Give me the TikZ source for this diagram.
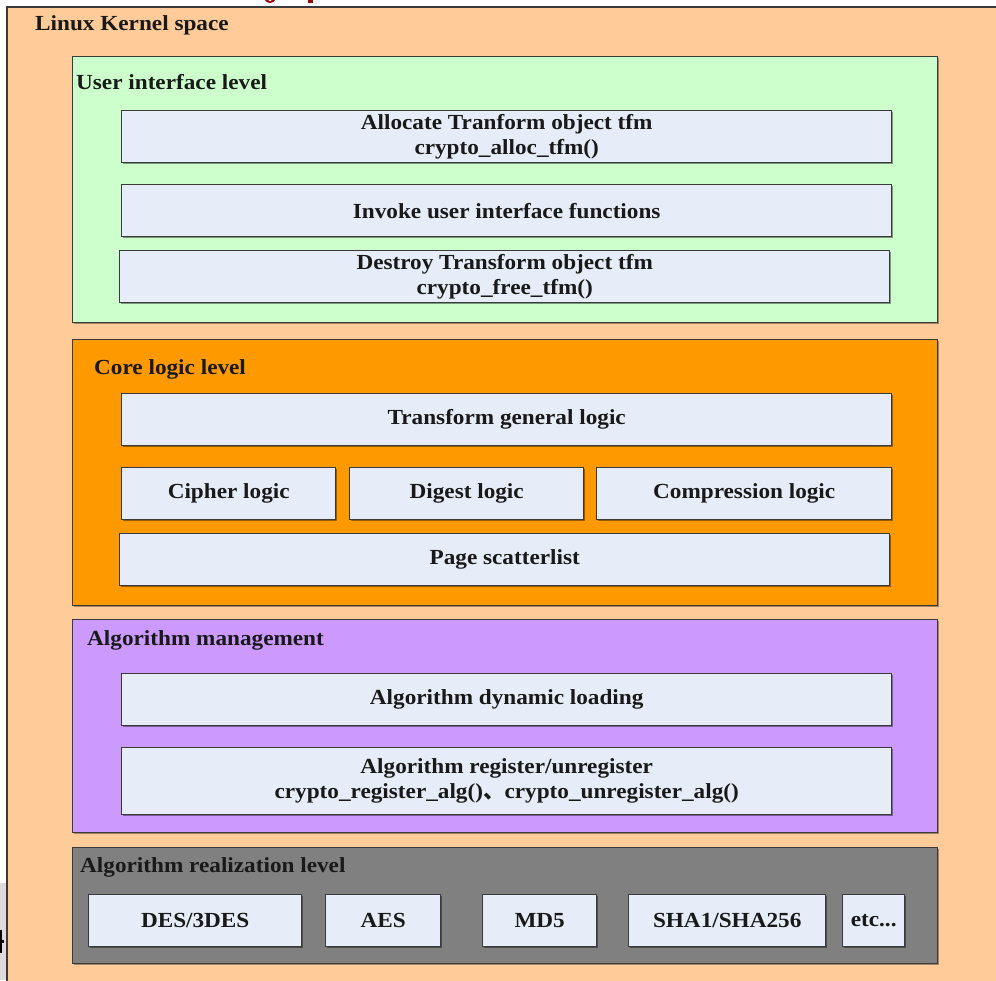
\documentclass[tikz,border=0pt]{standalone}
\usepackage{fontspec}
\setmainfont[FakeStretch=1.08]{Liberation Serif}
\newfontfamily\cjk{Noto Sans CJK SC}
\usetikzlibrary{shadows}
\definecolor{peach}{HTML}{FFCC99}
\definecolor{uigreen}{HTML}{CCFFCC}
\definecolor{coreorange}{HTML}{FF9900}
\definecolor{mgmtpurple}{HTML}{CC99FF}
\definecolor{realgray}{HTML}{808080}
\definecolor{boxfill}{HTML}{E7EDF8}
\definecolor{edge}{HTML}{3A3A3A}
\definecolor{titlered}{HTML}{A00000}
\definecolor{sidegray}{HTML}{DCDCDE}
\tikzset{
  txt/.style={font=\fontsize{21.5}{25}\selectfont\bfseries, text=black!90},
  levelbox/.style={draw=edge, line width=1.4pt, anchor=north west, inner sep=0pt,
     drop shadow={shadow xshift=1pt, shadow yshift=-1pt, opacity=0.35, fill=black}},
  itembox/.style={draw=edge, line width=1.4pt, fill=boxfill, anchor=north west, inner sep=0pt,
     align=center, txt,
     drop shadow={shadow xshift=1.2pt, shadow yshift=-1.2pt, opacity=0.4, fill=black}},
  lbl/.style={txt, anchor=west, inner sep=0pt},
}
\begin{document}
\begin{tikzpicture}[x=1pt, y=-1pt]
\useasboundingbox (0,0) rectangle (996,980);
% background strips
\fill[white] (0,0) rectangle (996,980);
\fill[sidegray] (0,883) rectangle (6,980);
\fill[black] (0,930) rectangle (2,953);
\fill[black] (0,940) rectangle (4,943);
% red title fragments
\fill[titlered] (265,0) .. controls (267,4) and (273,4) .. (275,0) -- (272,0) .. controls (271,2) and (269,2) .. (268,0) -- cycle;
\fill[titlered] (308,0) rectangle (313,3);
% outer kernel space
\filldraw[fill=peach, draw=edge, line width=2.4pt] (7,7) rectangle (1010,1000);
\node[lbl] (kernel) at (35,25) {Linux Kernel space};

% User interface level
\node[levelbox, fill=uigreen, minimum width=865pt, minimum height=266pt] (ui) at (72,56) {};
\node[lbl] (uilbl) at (76,82) {User interface level};
\node[itembox, minimum width=770pt, minimum height=52pt] (alloc) at (121,110) {Allocate Tranform object tfm\\crypto\_alloc\_tfm()};
\node[itembox, minimum width=770pt, minimum height=52pt] (invoke) at (121,184) {Invoke user interface functions};
\node[itembox, minimum width=770pt, minimum height=52pt] (destroy) at (119,250) {Destroy Transform object tfm\\crypto\_free\_tfm()};

% Core logic level
\node[levelbox, fill=coreorange, minimum width=865pt, minimum height=266pt] (core) at (72,339) {};
\node[lbl] (corelbl) at (94,369) {Core logic level};
\node[itembox, minimum width=770pt, minimum height=52pt] (general) at (121,393) {Transform general logic};
\node[itembox, minimum width=214pt, minimum height=52pt] (cipher) at (121,467) {Cipher logic};
\node[itembox, minimum width=234pt, minimum height=52pt] (digest) at (349,467) {Digest logic};
\node[itembox, minimum width=295pt, minimum height=52pt] (compress) at (596,467) {Compression logic};
\node[itembox, minimum width=770pt, minimum height=52pt] (page) at (119,533) {Page scatterlist};

% Algorithm management
\node[levelbox, fill=mgmtpurple, minimum width=865pt, minimum height=213pt] (mgmt) at (72,619) {};
\node[lbl] (mgmtlbl) at (87,640) {Algorithm management};
\node[itembox, minimum width=770pt, minimum height=52pt] (dyn) at (121,673) {Algorithm dynamic loading};
\node[itembox, minimum width=770pt, minimum height=67pt] (reg) at (121,747) {Algorithm register/unregister\\crypto\_register\_alg(){\cjk 、}crypto\_unregister\_alg()};

% Algorithm realization level
\node[levelbox, fill=realgray, minimum width=865pt, minimum height=116pt] (real) at (72,847) {};
\node[lbl] (reallbl) at (80,867) {Algorithm realization level};
\node[itembox, minimum width=213pt, minimum height=52pt] (des) at (88,894) {DES/3DES};
\node[itembox, minimum width=115pt, minimum height=52pt] (aes) at (325,894) {AES};
\node[itembox, minimum width=114pt, minimum height=52pt] (md5) at (482,894) {MD5};
\node[itembox, minimum width=197pt, minimum height=52pt] (sha) at (628,894) {SHA1/SHA256};
\node[itembox, minimum width=62pt, minimum height=52pt] (etc) at (842,894) {etc...};
\end{tikzpicture}
\end{document}
